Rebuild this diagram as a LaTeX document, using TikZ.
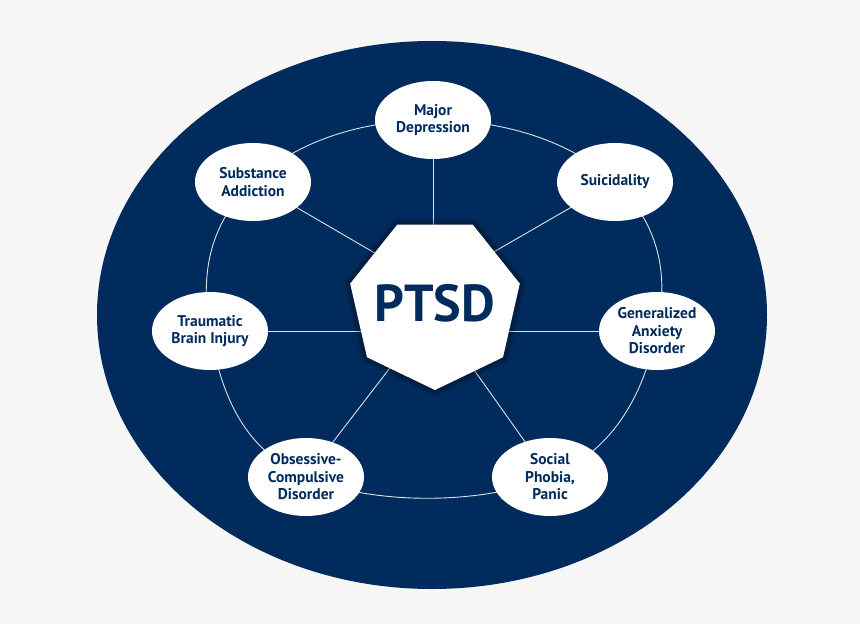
\documentclass[tikz,border=0pt]{standalone}
\usepackage{fontspec}
\setmainfont{PT Sans}
\usetikzlibrary{shapes.geometric,backgrounds}

\definecolor{navy}{HTML}{002B5C}
\definecolor{pagegray}{HTML}{F6F6F6}
\definecolor{linegray}{HTML}{DCE2E9}

\tikzset{
  illness/.style={ellipse, fill=white, minimum width=116pt, minimum height=78pt,
    inner sep=0pt, align=center, text=navy, font=\bfseries\fontsize{15.5}{17.5}\selectfont},
  hepta/.style={regular polygon, regular polygon sides=7, shape border rotate=180,
    minimum size=174pt, inner sep=-20pt},
  ringline/.style={linegray, line width=0.9pt},
}

\begin{document}
\begin{tikzpicture}[x=1pt, y=-1pt]
    % Page and big disc
    \begin{scope}[on background layer]
        \fill[pagegray] (0,0) rectangle (860,624);
        \fill[navy] (432,315) ellipse (335 and 274);
    \end{scope}
    \useasboundingbox (0,0) rectangle (860,624);

    % Conditions around the ring
    \node[illness] (md)  at (433,120) {Major\\Depression};
    \node[illness] (sui) at (615,182) {Suicidality};
    \node[illness] (gad) at (657,331) {Generalized\\Anxiety\\Disorder};
    \node[illness] (sp)  at (550,477) {Social\\Phobia,\\Panic};
    \node[illness] (ocd) at (306,477) {Obsessive-\\Compulsive\\Disorder};
    \node[illness] (tbi) at (210,331) {Traumatic\\Brain Injury};
    \node[illness] (sa)  at (253,182) {Substance\\Addiction};

    % Center
    \node[hepta, fill=white, text=navy, font=\bfseries\fontsize{52}{52}\selectfont] (ptsd) at (435,303) {PTSD};
    \coordinate (hubU) at (433,287);
    \coordinate (hubL) at (433,312);

    % Ring and spokes, behind the nodes
    \begin{scope}[on background layer]
        \draw[ringline] plot[smooth cycle, tension=0.7] coordinates {(md.center) (sui.center) (gad.center) (sp.center) (ocd.center) (tbi.center) (sa.center)};
        \draw[ringline] (md.center) -- (md.center |- ptsd.center);
        \draw[ringline] (gad.center) -- (gad.center -| ptsd.center);
        \draw[ringline] (tbi.center) -- (tbi.center -| ptsd.center);
        \draw[ringline] (sui.center) -- (hubU);
        \draw[ringline] (sa.center) -- (hubU);
        \draw[ringline] (sp.center) -- (hubL);
        \draw[ringline] (ocd.center) -- (hubL);
        % soft shadow round the heptagon
        \foreach \s in {2,4,...,14}
            \node[hepta, fill=black, fill opacity=0.05, minimum size=174pt+\s pt] at (435,303) {};
    \end{scope}
\end{tikzpicture}
\end{document}
